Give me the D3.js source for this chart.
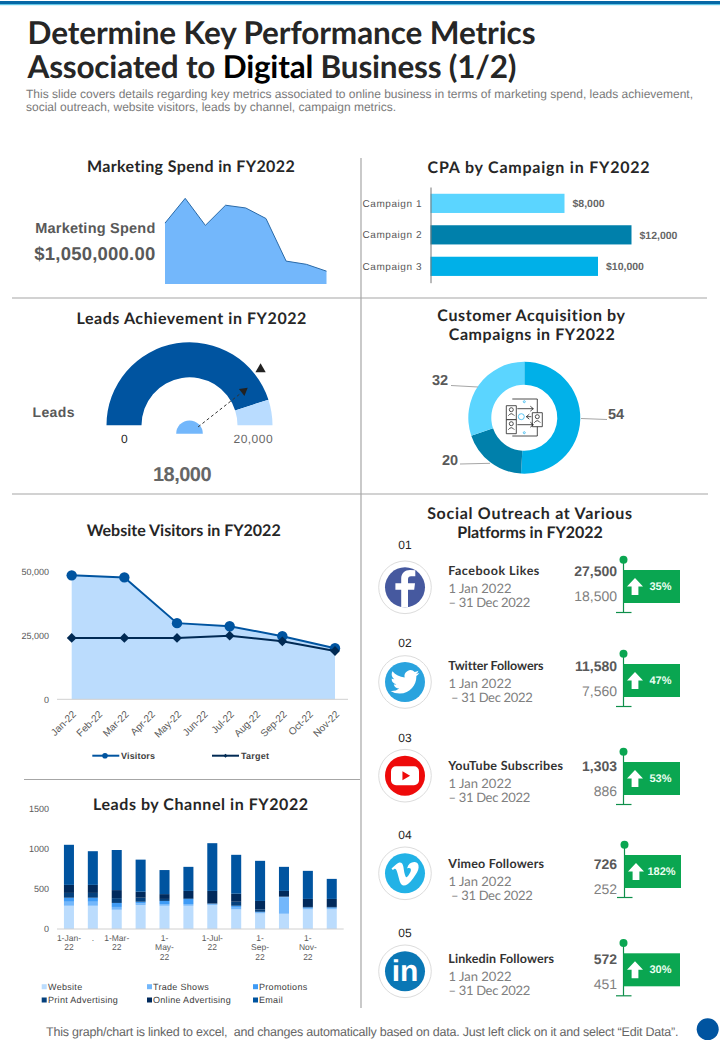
<!DOCTYPE html>
<html><head><meta charset="utf-8">
<script src="https://cdn.jsdelivr.net/npm/d3@7"></script>
<style>html,body{margin:0;padding:0;background:#fff}svg{display:block}text{text-rendering:geometricPrecision}</style>
</head><body><div id="c"></div>
<script>
// ---------- data ----------
const spendValues=[133000,187000,128000,172000,166000,143000,50000,43000,28000];
const spendTotal="$1,050,000.00";
const cpaCampaigns=["Campaign 1","Campaign 2","Campaign 3"];
const cpaValues=[8000,12000,10000];
const gaugeMax=20000, gaugeValue=18000, gaugeMarker=15750;
const donutValues=[54,20,32];
const months=["Jan-22","Feb-22","Mar-22","Apr-22","May-22","Jun-22","Jul-22","Aug-22","Sep-22","Oct-22","Nov-22"];
const visitMonths=[0,2,4,6,8,10];
const visitors=[48500,47700,29800,28600,24700,20000];
const target=[24000,24000,24000,24900,22700,18900];
const channelNames=["Website","Trade Shows","Promotions","Print Advertising","Online Advertising","Email"];
const website=[290,290,240,300,290,290,300,245,195,190,245,245];
const tradeShows=[50,50,35,20,20,20,5,30,10,205,15,15];
const promotions=[50,50,50,20,40,65,10,15,10,5,10,10];
const printAds=[60,60,60,50,25,10,5,50,30,5,5,5];
const onlineAds=[100,100,100,75,60,90,155,100,105,70,100,100];
const email=[500,420,500,400,300,300,595,485,500,300,350,250];
const channelTicks=["1-Jan-|22",".","1-Mar-|22","","1-|May-|22","","1-Jul-|22","","1-|Sep-|22","","1-|Nov-|22",""];
const socialNames=["Facebook Likes","Twitter Followers","YouTube Subscribes","Vimeo Followers","Linkedin Followers"];
const socialNow=["27,500","11,580","1,303","726","572"];
const socialPrev=["18,500","7,560","886","252","451"];
const socialPct=["35%","47%","53%","182%","30%"];
// ---------- layout ----------
const HEAD="Lato, 'Open Sans', sans-serif", ARIAL="'Liberation Sans', Arial, sans-serif";
const svg=d3.select("#c").append("svg").attr("width",720).attr("height",1040).attr("viewBox","0 0 720 1040");
function T(x,y,s,o={}){
  const t=svg.append("text").attr("x",x).attr("y",y).attr("dy",o.dy??"0.35em")
    .attr("text-anchor",o.a||"middle").attr("font-family",o.f||ARIAL).attr("font-size",o.s||12)
    .attr("font-weight",o.w||400).attr("fill",o.c||"#595959").text(s);
  if(o.fit)fit(t,o.fit);
  return t;
}
function fit(t,w){
  const n=t.text().length, l=t.node().getComputedTextLength();
  t.attr("letter-spacing",((w-l)/Math.max(1,n-1)).toFixed(3)+"px");
}
// top band
svg.append("rect").attr("x",0).attr("y",1).attr("width",720).attr("height",3).attr("fill","#0568a6");
svg.append("rect").attr("x",0).attr("y",4).attr("width",720).attr("height",1.2).attr("fill","#62c6e6");
// title
T(27.5,43.5,"Determine Key Performance Metrics",{a:"start",dy:0,f:HEAD,s:31.5,w:700,c:"#262626",fit:508});
const t2=svg.append("text").attr("x",27.5).attr("y",78).attr("font-family",HEAD).attr("font-size",31.5).attr("font-weight",700).attr("fill","#262626");
t2.append("tspan").text("Associated to ");
t2.append("tspan").attr("fill","#000").text("Digital");
t2.append("tspan").text(" Business (1/2)");
fit(t2,489);
T(26,97.5,"This slide covers details regarding key metrics associated to online business in terms of marketing spend, leads achievement,",{a:"start",dy:0,s:12,c:"#7a7a7a",fit:667});
T(26,111,"social outreach, website visitors, leads by channel, campaign metrics.",{a:"start",dy:0,s:12,c:"#7a7a7a",fit:370});
// dividers
const rule=(x1,y1,x2,y2)=>svg.append("line").attr("x1",x1).attr("y1",y1).attr("x2",x2).attr("y2",y2).attr("stroke","#a6a6a6").attr("stroke-width",1.2);
rule(12,298,707,298);rule(12,494,708,494);rule(361,158,361,1008);rule(24,779.5,360,779.5);
// section titles
const tt=(x,y,s,w)=>T(x,y,s,{f:HEAD,s:16,w:700,c:"#262626",fit:w});
tt(191,166.5,"Marketing Spend in FY2022",208);
tt(539,167,"CPA by Campaign in FY2022",222);
tt(191.7,318,"Leads Achievement in FY2022",230);
tt(531.5,315,"Customer Acquisition by",188);
tt(532,334.5,"Campaigns in FY2022",166);
tt(183.7,530.5,"Website Visitors  in FY2022",194);
tt(200.8,804,"Leads by Channel in FY2022",215);
tt(530,513,"Social Outreach at Various",205);
tt(530,532.5,"Platforms in FY2022",145);

// --- marketing spend
{
 const x=d3.scaleLinear().domain([0,spendValues.length-1]).range([165,326.5]);
 const y=d3.scaleLinear().domain([0,200000]).range([284,192.4]);
 svg.append("path").datum(spendValues).attr("fill","#73b7fb")
   .attr("d",d3.area().x((d,i)=>x(i)).y0(y(0)).y1(d=>y(d)));
 svg.append("path").datum(spendValues).attr("fill","none").attr("stroke","#2a6aa8").attr("stroke-width",1)
   .attr("d",d3.line().x((d,i)=>x(i)).y(d=>y(d)));
 T(155.5,228,"Marketing Spend",{a:"end",s:14.5,w:700,fit:120});
 T(155.5,253.7,spendTotal,{a:"end",s:18.5,w:700,fit:121});
}
// --- CPA bars
{
 const y=d3.scaleBand().domain(cpaCampaigns).range([187,282.7]).paddingInner(0.39).paddingOuter(0.215);
 const x=d3.scaleLinear().domain([0,12000]).range([430.5,631.5]);
 const cols=["#5bd5ff","#0080ab","#00b0e8"];
 svg.selectAll(".cpa").data(cpaValues).join("rect").attr("x",x(0)).attr("y",(d,i)=>y(cpaCampaigns[i]))
   .attr("width",d=>x(d)-x(0)).attr("height",y.bandwidth()).attr("fill",(d,i)=>cols[i]);
 const ax=svg.append("g").attr("transform","translate(430.5,0)").call(d3.axisLeft(y).tickSize(0).tickPadding(8.5));
 ax.select(".domain").attr("stroke","#777");
 ax.selectAll("text").attr("font-family",ARIAL).attr("font-size",10).attr("fill","#595959").attr("letter-spacing","0.55px");
 cpaValues.forEach((d,i)=>T(x(d)+8,y(cpaCampaigns[i])+y.bandwidth()/2,"$"+d3.format(",")(d),{a:"start",s:10.5,w:700,c:"#666"}));
}
// --- gauge
{
 const cx=189.5, cy=425.3;
 const ang=d3.scaleLinear().domain([0,gaugeMax]).range([-Math.PI/2,Math.PI/2]);
 const arc=d3.arc().innerRadius(48).outerRadius(83);
 const g=svg.append("g").attr("transform",`translate(${cx},${cy})`);
 g.append("path").attr("fill","#0054a0").attr("d",arc({startAngle:ang(0),endAngle:ang(gaugeValue)}));
 g.append("path").attr("fill","#b9dcff").attr("d",arc({startAngle:ang(gaugeValue),endAngle:ang(gaugeMax)}));
 const mA=ang(gaugeMarker);
 g.append("path").attr("fill","#222").attr("d",d3.symbol(d3.symbolTriangle,46)())
   .attr("transform",`translate(${90.5*Math.sin(mA)},${-90.5*Math.cos(mA)})`);
 const h=svg.append("g").attr("transform",`translate(${cx},${cy+8.4})`);
 h.append("path").attr("fill","#73b7fb").attr("d",d3.arc().innerRadius(0).outerRadius(13.3)({startAngle:-Math.PI/2,endAngle:Math.PI/2}));
 const sx=Math.sin(mA),sy=-Math.cos(mA);
 h.append("line").attr("x1",sx*11).attr("y1",sy*11).attr("x2",sx*66).attr("y2",sy*66)
   .attr("stroke","#333").attr("stroke-width",1).attr("stroke-dasharray","3,2.5");
 h.append("path").attr("fill","#222").attr("d",d3.symbol(d3.symbolTriangle,34)())
   .attr("transform",`translate(${sx*69},${sy*69}) rotate(${mA*180/Math.PI})`);
 T(53.7,412,"Leads",{s:14,w:700,fit:42});
 T(124.3,438.3,"0",{s:12,c:"#222"});
 T(253.3,438.3,d3.format(",")(gaugeMax),{s:12,c:"#666",fit:39});
 T(182,474.3,d3.format(",")(gaugeValue),{s:20,w:700,c:"#666",fit:58.7});
}
// --- donut
{
 const cx=524.3, cy=417.7;
 const pie=d3.pie().sort(null)(donutValues);
 const arc=d3.arc().innerRadius(33).outerRadius(56);
 const cols=["#00b0e8","#0080ab","#5bd5ff"];
 const g=svg.append("g").attr("transform",`translate(${cx},${cy})`);
 g.selectAll("path").data(pie).join("path").attr("fill",(d,i)=>cols[i]).attr("d",arc);
 const lead=(a,b,c,d)=>svg.append("line").attr("x1",a).attr("y1",b).attr("x2",c).attr("y2",d).attr("stroke","#a6a6a6").attr("stroke-width",1);
 lead(581,418.5,607,419.5);lead(451,385.5,478,387);lead(460,464,490,463.3);
 T(616,414,"54",{s:14.5,w:700});T(440,380,"32",{s:14.5,w:700});T(450,460,"20",{s:14.5,w:700});
 // centre icon
 const ic=g.append("g").attr("fill","none").attr("stroke","#222").attr("stroke-width",0.8);
 ic.append("path").attr("d","M-12 -18.7H13V18.3H-12");
 [[-17,-11],[-17,3],[9,-4]].forEach(([dx,dy])=>{
   ic.append("path").attr("d",`M${dx-1} ${dy-1}h10v14h-10z`).attr("fill","#fff");
   ic.append("circle").attr("cx",dx+4).attr("cy",dy+3).attr("r",2);
   ic.append("path").attr("d",`M${dx+1} ${dy+9}q3 -4 6 0`);
 });
 ic.append("path").attr("d","M-7 -9H9M6 -11.5L9 -9L6 -6.5M-7 7H9M6 4.5L9 7L6 9.5M7 -1H2M5 -3.5L2 -1L5 1.5");
 ic.append("circle").attr("cx",-3).attr("cy",-1).attr("r",3).attr("stroke","#35b8ef");
 ic.append("circle").attr("cx",0).attr("cy",15).attr("r",1).attr("stroke","#35b8ef");
 ic.append("circle").attr("cx",0).attr("cy",-16).attr("r",1).attr("stroke","#35b8ef");
}
// --- website visitors
{
 const x=d3.scaleLinear().domain([0,10]).range([71.7,335]);
 const y=d3.scaleLinear().domain([0,50000]).range([699.3,571.5]);
 svg.append("path").datum(visitors).attr("fill","#bbdcfd")
   .attr("d",d3.area().x((d,i)=>x(visitMonths[i])).y0(y(0)).y1(d=>y(d)));
 const ln=d3.line().x((d,i)=>x(visitMonths[i])).y(d=>y(d));
 svg.append("path").datum(visitors).attr("fill","none").attr("stroke","#0054a0").attr("stroke-width",2).attr("d",ln);
 svg.selectAll(".v").data(visitors).join("circle").attr("cx",(d,i)=>x(visitMonths[i])).attr("cy",d=>y(d)).attr("r",5.2).attr("fill","#0054a0");
 svg.append("path").datum(target).attr("fill","none").attr("stroke","#012a54").attr("stroke-width",2).attr("d",ln);
 svg.selectAll(".tg").data(target).join("path").attr("d",d3.symbol(d3.symbolSquare,48)())
   .attr("transform",(d,i)=>`translate(${x(visitMonths[i])},${y(d)}) rotate(45)`).attr("fill","#012a54");
 const ya=svg.append("g").attr("transform","translate(57,0)").call(d3.axisLeft(y).tickValues([0,25000,50000]).tickFormat(d3.format(",")).tickSize(0).tickPadding(8));
 ya.select(".domain").remove();
 ya.selectAll("text").attr("font-family",ARIAL).attr("font-size",9).attr("fill","#595959");
 const xs=d3.scalePoint().domain(months).range([71.7,335]);
 const xa=svg.append("g").attr("transform","translate(0,699.3)").call(d3.axisBottom(xs).tickSize(0));
 xa.select(".domain").remove();
 svg.append("line").attr("x1",57).attr("x2",348).attr("y1",699.3).attr("y2",699.3).attr("stroke","#d0d0d0");
 xa.selectAll("text").attr("font-family",ARIAL).attr("font-size",10).attr("fill","#595959")
   .attr("text-anchor","end").attr("x",0).attr("y",0).attr("dy","0.35em").attr("transform","translate(2,13) rotate(-45)");
 // legend
 svg.append("line").attr("x1",92.3).attr("x2",119.3).attr("y1",755.7).attr("y2",755.7).attr("stroke","#0054a0").attr("stroke-width",2);
 svg.append("circle").attr("cx",105).attr("cy",755.7).attr("r",2.8).attr("fill","#0054a0");
 T(121,755.7,"Visitors",{a:"start",s:9,w:700,c:"#404040",fit:34});
 svg.append("line").attr("x1",212).attr("x2",239).attr("y1",755.7).attr("y2",755.7).attr("stroke","#012a54").attr("stroke-width",2);
 svg.append("path").attr("d",d3.symbol(d3.symbolSquare,8)()).attr("transform","translate(225.5,755.7) rotate(45)").attr("fill","#012a54");
 T(241,755.7,"Target",{a:"start",s:9,w:700,c:"#404040",fit:28});
}
// --- leads by channel
{
 const rows=website.map((d,i)=>({i,Website:d,"Trade Shows":tradeShows[i],Promotions:promotions[i],"Print Advertising":printAds[i],"Online Advertising":onlineAds[i],Email:email[i]}));
 const cols=["#bbdcfd","#73b7fb","#3f9bf5","#05407c","#012a5c","#0054a0"];
 const x=d3.scaleBand().domain(d3.range(12)).range([57,343.7]).paddingInner(0.58).paddingOuter(0.29);
 const y=d3.scaleLinear().domain([0,1500]).range([929,808.7]);
 const st=d3.stack().keys(channelNames)(rows);
 svg.selectAll(".lay").data(st).join("g").attr("fill",(d,i)=>cols[i])
   .selectAll("rect").data(d=>d).join("rect").attr("x",d=>x(d.data.i)).attr("width",x.bandwidth())
   .attr("y",d=>y(d[1])).attr("height",d=>y(d[0])-y(d[1]));
 const ya=svg.append("g").attr("transform","translate(57,0)").call(d3.axisLeft(y).tickValues([0,500,1000,1500]).tickFormat(d3.format("d")).tickSize(0).tickPadding(8));
 ya.select(".domain").remove();
 ya.selectAll("text").attr("font-family",ARIAL).attr("font-size",9).attr("fill","#595959");
 svg.append("line").attr("x1",57).attr("x2",343.7).attr("y1",929).attr("y2",929).attr("stroke","#d0d0d0");
 channelTicks.forEach((s,i)=>{
   if(!s)return;
   s.split("|").forEach((p,j)=>T(x(i)+x.bandwidth()/2,938+j*9.5,p,{s:8.5,c:"#595959"}));
 });
 const lx=[41.7,147,253], tx=[48,153,259], ly=[986.7,1000];
 channelNames.forEach((n,i)=>{
   const c=i%3,r=Math.floor(i/3);
   svg.append("rect").attr("x",lx[c]).attr("y",ly[r]-2.5).attr("width",5).attr("height",5).attr("fill",cols[i]);
   T(tx[c],ly[r],n,{a:"start",s:9,c:"#404040"}).attr("letter-spacing","0.3px");
 });
}
// --- social
{
 const icon=[587.3,682,775.7,873.3,971.3];
 const numY=[544.7,642.6,737.6,834.6,932.6];
 const nameY=[571,665.7,765.7,863.7,959];
 const flagY=[570,664,762,855,953.3];
 const nameW=[91,94.7,114.7,95.7,105.7];
 const dateX=[448.5,451,448.5,451,448.5];
 const numFmt=["01","02","03","04","05"];
 const colors=["#46599f","#2aa3de","#ee0a0a","#22b2e6","#0a77b5"];
 const bird="M23.953 4.57a10 10 0 01-2.825.775 4.958 4.958 0 002.163-2.723c-.951.555-2.005.959-3.127 1.184a4.92 4.92 0 00-8.384 4.482C7.69 8.095 4.067 6.13 1.64 3.162a4.822 4.822 0 00-.666 2.475c0 1.71.87 3.213 2.188 4.096a4.904 4.904 0 01-2.228-.616v.06a4.923 4.923 0 003.946 4.827 4.996 4.996 0 01-2.212.085 4.936 4.936 0 004.604 3.417 9.867 9.867 0 01-6.102 2.105c-.39 0-.779-.023-1.17-.067a13.995 13.995 0 007.557 2.209c9.053 0 13.998-7.496 13.998-13.985 0-.21 0-.42-.015-.63A9.935 9.935 0 0024 4.59z";
 const vim="M23.977 6.416c-.105 2.338-1.739 5.543-4.894 9.609-3.268 4.247-6.026 6.37-8.29 6.37-1.409 0-2.578-1.294-3.553-3.881L5.322 11.4C4.603 8.816 3.834 7.522 3.01 7.522c-.179 0-.806.378-1.881 1.132L0 7.197c1.185-1.044 2.351-2.084 3.501-3.128C5.08 2.701 6.266 1.984 7.055 1.91c1.867-.18 3.016 1.1 3.447 3.838.465 2.953.789 4.789.971 5.507.539 2.45 1.131 3.674 1.776 3.674.502 0 1.256-.796 2.265-2.385 1.004-1.589 1.54-2.797 1.612-3.628.144-1.371-.395-2.061-1.614-2.061-.574 0-1.167.121-1.777.391 1.186-3.868 3.434-5.757 6.762-5.637 2.473.06 3.628 1.664 3.493 4.797z";
 socialNames.forEach((n,i)=>{
   const g=svg.append("g").attr("transform",`translate(405,${icon[i]})`);
   g.append("circle").attr("r",26.3).attr("fill","#fff").attr("stroke","#dcdcdc").attr("stroke-width",1);
   g.append("circle").attr("r",20).attr("fill",colors[i]);
   if(i==0){
     g.append("path").attr("fill","#fff").attr("d","M3 19.6V2.5H9.2L10 -4H3V-8C3 -10 4 -11 6 -11H10.3V-17A40 40 0 0 0 5 -17.4C0 -17.4 -3.8 -14.4 -3.8 -8.8V-4H-9.6V2.5H-3.8V19.6Z");
   } else if(i==1){
     g.append("path").attr("fill","#fff").attr("d",bird).attr("transform","translate(-14.5,-14.5) scale(1.2)");
   } else if(i==2){
     g.append("rect").attr("x",-14).attr("y",-9.5).attr("width",28).attr("height",19).attr("rx",5).attr("fill","#fff");
     g.append("path").attr("fill","#ee0a0a").attr("d",d3.symbol(d3.symbolTriangle,34)()).attr("transform","rotate(90)");
   } else if(i==3){
     g.append("path").attr("fill","#fff").attr("d",vim).attr("transform","translate(-13.5,-13) scale(1.13)");
   } else {
     g.append("text").attr("text-anchor","middle").attr("y",9.5).attr("font-family",ARIAL).attr("font-weight",700).attr("font-size",30).attr("fill","#fff").text("in");
   }
   T(405,numY[i],numFmt[i],{s:12,c:"#262626"});
   T(448.3,nameY[i],n,{a:"start",f:HEAD,s:12.5,w:700,c:"#333",fit:nameW[i]});
   T(448.5,nameY[i]+17.7,"1 Jan 2022",{a:"start",f:HEAD,s:13,c:"#808080",fit:63});
   T(dateX[i],nameY[i]+31.7,"– 31 Dec 2022",{a:"start",f:HEAD,s:13,c:"#808080",fit:81.7});
   T(617,nameY[i],socialNow[i],{a:"end",s:14,w:700,c:"#595959"});
   T(617,nameY[i]+25,socialPrev[i],{a:"end",s:14,c:"#808080"});
   const G="#0aa651", fx=623.5+(i==3?1:0), fy=flagY[i];
   svg.append("line").attr("x1",fx).attr("x2",fx).attr("y1",fy-10).attr("y2",fy+42.5).attr("stroke","#0e8f4b").attr("stroke-width",1.2);
   svg.append("circle").attr("cx",fx).attr("cy",fy-10.3).attr("r",4).attr("fill",G);
   svg.append("line").attr("x1",fx-7.5).attr("x2",fx+8).attr("y1",fy+42.5).attr("y2",fy+42.5).attr("stroke","#0e8f4b").attr("stroke-width",1.2);
   svg.append("rect").attr("x",fx).attr("y",fy).attr("width",56.5).attr("height",33).attr("fill",G);
   svg.append("path").attr("fill","#fff").attr("d",`M${fx+11.5} ${fy+8}l8 8.5h-4.6v8.5h-6.8v-8.5h-4.6z`);
   T(fx+37,fy+16,socialPct[i],{s:11,w:700,c:"#eafff2"});
 });
}
// footer
T(46,1031.5,"This graph/chart is linked to excel,  and changes automatically based on data. Just left click on it and select “Edit Data”.",{a:"start",s:12.5,c:"#666",fit:629}).attr("xml:space","preserve");
svg.append("circle").attr("cx",707.7).attr("cy",1029.3).attr("r",11).attr("fill","#0054a0");
</script></body></html>
